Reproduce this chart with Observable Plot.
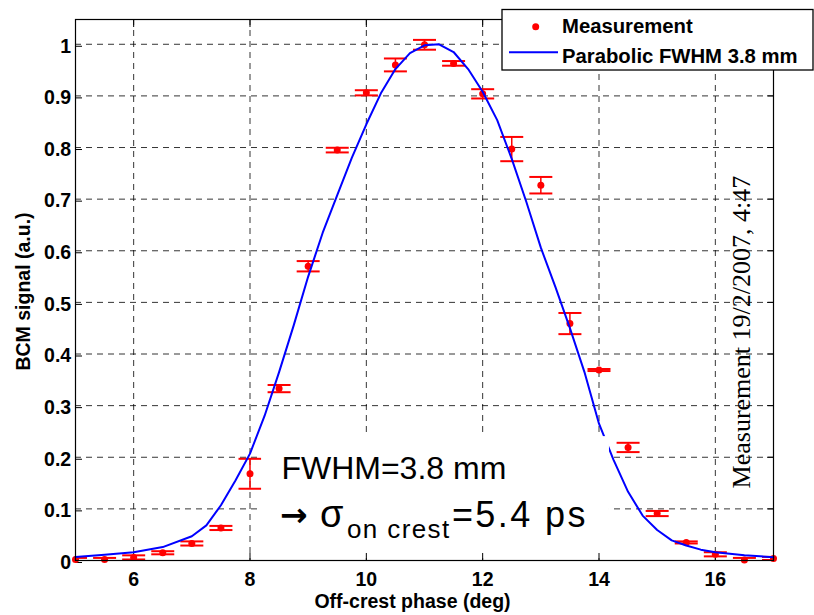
<!DOCTYPE html>
<html><head><meta charset="utf-8">
<script src="https://cdn.jsdelivr.net/npm/d3@7"></script>
<script src="https://cdn.jsdelivr.net/npm/@observablehq/plot@0.6"></script>
<style>
body{margin:0;background:#fff;}
#chart{width:814px;height:615px;}
</style></head><body><div id="chart"></div>
<script>
// Measurement (BCM signal vs off-crest phase)
const phase = [5,5.5,6,6.5,7,7.5,8,8.5,9,9.5,10,10.5,11,11.5,12,12.5,13,13.5,14,14.5,15,15.5,16,16.5,17];
const signal = [0.002,0.002,0.006,0.015,0.033,0.063,0.168,0.333,0.570,0.795,0.906,0.960,0.999,0.963,0.904,0.797,0.727,0.459,0.369,0.219,0.091,0.035,0.012,0.001,0.004];
const signalErr = [0.003,0.003,0.004,0.003,0.004,0.004,0.029,0.007,0.010,0.0045,0.005,0.0125,0.0095,0.0045,0.009,0.0235,0.016,0.0205,0.002,0.009,0.005,0.002,0.004,0.004,0.003];
// Parabolic FWHM 3.8 mm fit curve
const fitPhase = [5,5.5,6,6.5,7,7.25,7.5,7.75,8,8.25,8.5,8.75,9,9.25,9.5,9.75,10,10.25,10.5,10.75,11,11.25,11.5,11.75,12,12.25,12.5,12.75,13,13.25,13.5,13.75,14,14.25,14.5,14.75,15,15.25,15.5,15.75,16,16.5,17];
const fitSignal = [0.007,0.011,0.016,0.026,0.047,0.068,0.107,0.155,0.207,0.28,0.365,0.455,0.55,0.635,0.708,0.78,0.845,0.905,0.952,0.983,0.998,1.0,0.985,0.952,0.908,0.853,0.778,0.695,0.606,0.53,0.45,0.365,0.265,0.195,0.133,0.087,0.059,0.039,0.029,0.021,0.016,0.01,0.0065];
const xTicks = [6,8,10,12,14,16];
const yTicks = [0,0.1,0.2,0.3,0.4,0.5,0.6,0.7,0.8,0.9,1];
const yTickLabels = ["0","0.1","0.2","0.3","0.4","0.5","0.6","0.7","0.8","0.9","1"];
const legendLabels = ["Measurement","Parabolic FWHM 3.8 mm"];
const xLabel = "Off-crest phase (deg)";
const yLabel = "BCM signal (a.u.)";
const dateLabel = "Measurement 19/2/2007, 4:47";
const annLine1 = "FWHM=3.8 mm";
// annotation placement (data units)
const annX = 8.54, annY1 = 0.158, annY2 = 0.064;
const annBox = {x1: 8.2, x2: 14.18, y1: 0.0136, y2: 0.240};
const datePos = {x: 16.6, y: 0.4425};

const meas = phase.map((x, i) => ({x, y: signal[i], lo: signal[i] - signalErr[i], hi: signal[i] + signalErr[i]}));
const fit = fitPhase.map((x, i) => ({x, y: fitSignal[i]}));

const SANS = "'Liberation Sans', Arial, Helvetica, sans-serif";
const capSymbol = {draw(ctx) { ctx.moveTo(-11.5, 0); ctx.lineTo(11.5, 0); }};
const gridStyle = {stroke: "black", strokeOpacity: 1, strokeDasharray: "6,5", strokeWidth: 0.8};

const plot = Plot.plot({
  width: 814, height: 615,
  marginLeft: 75, marginRight: 41, marginTop: 19, marginBottom: 55,
  x: {domain: [5, 17]},
  y: {domain: [0, 1.048]},
  style: {fontFamily: SANS, background: "white", color: "black"},
  marks: [
    Plot.gridX(xTicks, gridStyle),
    Plot.gridY(yTicks.filter(d => d > 0), gridStyle),
    Plot.axisX(xTicks, {anchor: "bottom", tickSize: -7, tickPadding: 18.7, label: null, fontSize: 19.5, fontWeight: "bold", tickFormat: d => String(d)}),
    Plot.axisX(xTicks, {anchor: "top", tickSize: -7, label: null, tickFormat: () => ""}),
    Plot.axisY(yTicks, {anchor: "left", tickSize: -7, tickPadding: 11.3, label: null, fontSize: 19.5, fontWeight: "bold", dy: 2, tickFormat: d => yTickLabels[yTicks.indexOf(d)]}),
    Plot.axisY(yTicks, {anchor: "right", tickSize: -7, label: null, tickFormat: () => ""}),
    Plot.ruleX(meas, {x: "x", y1: "lo", y2: "hi", stroke: "red", strokeWidth: 1.5, clip: true}),
    Plot.dot(meas, {x: "x", y: "lo", symbol: capSymbol, stroke: "red", fill: "none", strokeWidth: 2, clip: true}),
    Plot.dot(meas, {x: "x", y: "hi", symbol: capSymbol, stroke: "red", fill: "none", strokeWidth: 2, clip: true}),
    Plot.dot(meas, {x: "x", y: "y", r: 3.5, fill: "red"}),
    Plot.line(fit, {x: "x", y: "y", stroke: "#0000ff", strokeWidth: 2}),
    Plot.rect([annBox], {x1: "x1", x2: "x2", y1: "y1", y2: "y2", fill: "white"}),
    Plot.text([annLine1], {x: annX, y: annY1, text: d => d, textAnchor: "start", lineAnchor: "bottom", fontSize: 32, fill: "black"}),
    Plot.text([dateLabel], {x: datePos.x, y: datePos.y, text: d => d, rotate: -90, textAnchor: "middle", lineAnchor: "bottom", fontSize: 26, fontFamily: "'Liberation Serif', 'Times New Roman', serif", fill: "black"}),
    Plot.text([xLabel], {frameAnchor: "bottom", text: d => d, lineAnchor: "bottom", dy: 47.7, dx: -12, fontSize: 19.5, fontWeight: "bold", fill: "black"}),
    Plot.frame({stroke: "black", strokeWidth: 1.2})
  ]
});

const sx = plot.scale("x"), sy = plot.scale("y");
const svg = d3.select(plot);
// y-axis title, centred on the frame
const yMid = (sy.apply(0) + sy.apply(1.048)) / 2;
svg.append("text").attr("transform", `translate(30,${yMid + 2}) rotate(-90)`)
  .attr("text-anchor", "middle").attr("font-family", SANS).attr("font-weight", "bold")
  .attr("font-size", 19.5).attr("fill", "black").text(yLabel);
// second annotation line with subscript
const bx = sx.apply(annX);
const t2 = svg.append("text").attr("y", sy.apply(annY2)).attr("font-family", SANS).attr("fill", "black").attr("text-anchor", "start");
t2.append("tspan").attr("x", bx - 1).attr("dy", -1).attr("font-size", 33).attr("font-weight", "bold").attr("font-family", "'DejaVu Sans', sans-serif").text("\u2192");
t2.append("tspan").attr("x", bx + 39).attr("dy", 1).attr("font-size", 38).attr("font-weight", "normal").text("\u03c3");
t2.append("tspan").attr("x", bx + 66).attr("dy", 11).attr("font-size", 26).attr("letter-spacing", 1.4).text("on crest");
t2.append("tspan").attr("x", bx + 171).attr("dy", -11).attr("font-size", 36).attr("letter-spacing", 2.4).text("=5.4 ps");

// legend box (top right, overlapping the axes corner)
const lg = svg.append("g").attr("font-family", SANS).attr("font-weight", "bold").attr("font-size", 20.3).attr("text-anchor", "start");
lg.append("rect").attr("x", 502).attr("y", 9.5).attr("width", 311).attr("height", 60.5).attr("fill", "white").attr("stroke", "black").attr("stroke-width", 1.3);
lg.append("circle").attr("cx", 535.7).attr("cy", 26.7).attr("r", 3.5).attr("fill", "red");
lg.append("text").attr("x", 562).attr("y", 33.3).attr("fill", "black").text(legendLabels[0]);
lg.append("line").attr("x1", 509).attr("x2", 558).attr("y1", 52.3).attr("y2", 52.3).attr("stroke", "#0000ff").attr("stroke-width", 2);
lg.append("text").attr("x", 562).attr("y", 63).attr("fill", "black").text(legendLabels[1]);

document.getElementById("chart").appendChild(plot);
</script></body></html>
